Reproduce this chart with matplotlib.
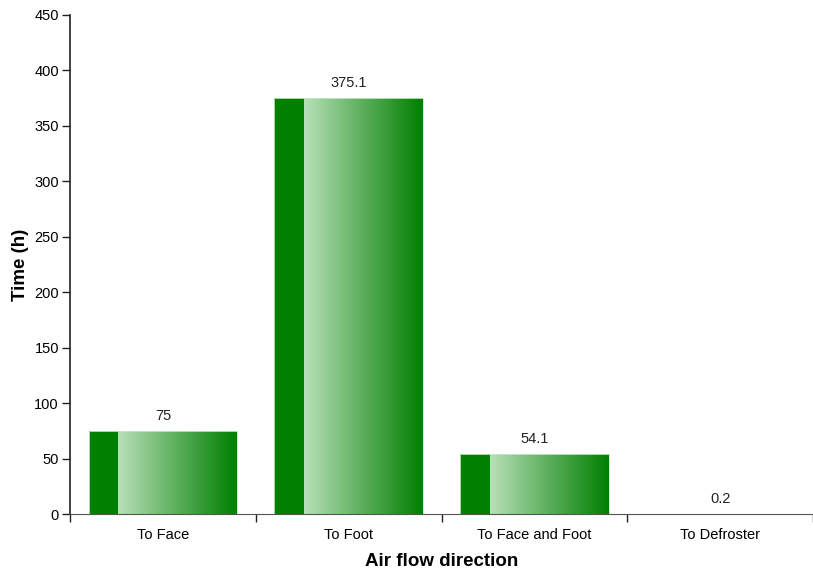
import matplotlib.pyplot as plt
import numpy as np
from matplotlib.colors import LinearSegmentedColormap

plt.rcParams['font.family'] = ['Liberation Sans', 'DejaVu Sans']

categories = ["To Face", "To Foot", "To Face and Foot", "To Defroster"]
values = [75, 375.1, 54.1, 0.2]
value_labels = ["75", "375.1", "54.1", "0.2"]

fig = plt.figure(figsize=(8.13, 5.74), dpi=100)
ax = fig.add_axes([70 / 813, 60 / 574, 743 / 813, 499 / 574])

x = np.arange(len(categories))
width = 0.8
dark = "#008000"
grad = LinearSegmentedColormap.from_list("g", ["#b8e0b8", "#5aae5a", dark])

# invisible bars for scale, then gradient fill clipped to each bar
bars = ax.bar(x, values, width=width, color="none", edgecolor="none")
gradient = np.linspace(0, 1, 256).reshape(1, -1)
for b in bars:
    x0, h, w = b.get_x(), b.get_height(), b.get_width()
    if h <= 0.5:
        continue
    split = x0 + w * 0.2
    ax.fill_between([x0, split], 0, h, color=dark, linewidth=0, zorder=2)
    im = ax.imshow(gradient, cmap=grad, aspect="auto",
                   extent=[split, x0 + w, -5, h + 5], zorder=2,
                   interpolation="bilinear")
    clip = plt.Rectangle((split, 0), x0 + w - split, h, transform=ax.transData,
                         facecolor="none", edgecolor="none")
    ax.add_patch(clip)
    im.set_clip_path(clip)
    ax.add_patch(plt.Rectangle((x0, 0), w, h, fill=False, edgecolor="#c8e6c8",
                               linewidth=0.6, zorder=3))

for xi, v, lab in zip(x, values, value_labels):
    ax.text(xi, v + 7, lab, ha="center", va="bottom", fontsize=10.5, color="#222222")

ax.set_xlim(-0.5, 3.5)
ax.set_ylim(0, 450)
ax.set_yticks(np.arange(0, 451, 50))
ax.set_xticks(x)
ax.set_xticklabels(categories)
ax.set_xticks(np.arange(-0.5, 3.6, 1), minor=True)
ax.tick_params(axis="x", which="major", length=0, pad=10, labelsize=10.5)
ax.tick_params(axis="x", which="minor", length=6, width=1, color="#222222")
ax.tick_params(axis="y", length=6, width=1, labelsize=10.5, pad=2, color="#222222")

for s in ["top", "right"]:
    ax.spines[s].set_visible(False)
ax.spines["left"].set_color("#222222")
ax.spines["bottom"].set_color("#555555")
ax.spines["left"].set_linewidth(1.2)

ax.set_ylabel("Time (h)", fontsize=13.5, fontweight="bold", labelpad=4)
ax.set_xlabel("Air flow direction", fontsize=13.5, fontweight="bold", labelpad=8)

fig.savefig("out.png", dpi=100)
